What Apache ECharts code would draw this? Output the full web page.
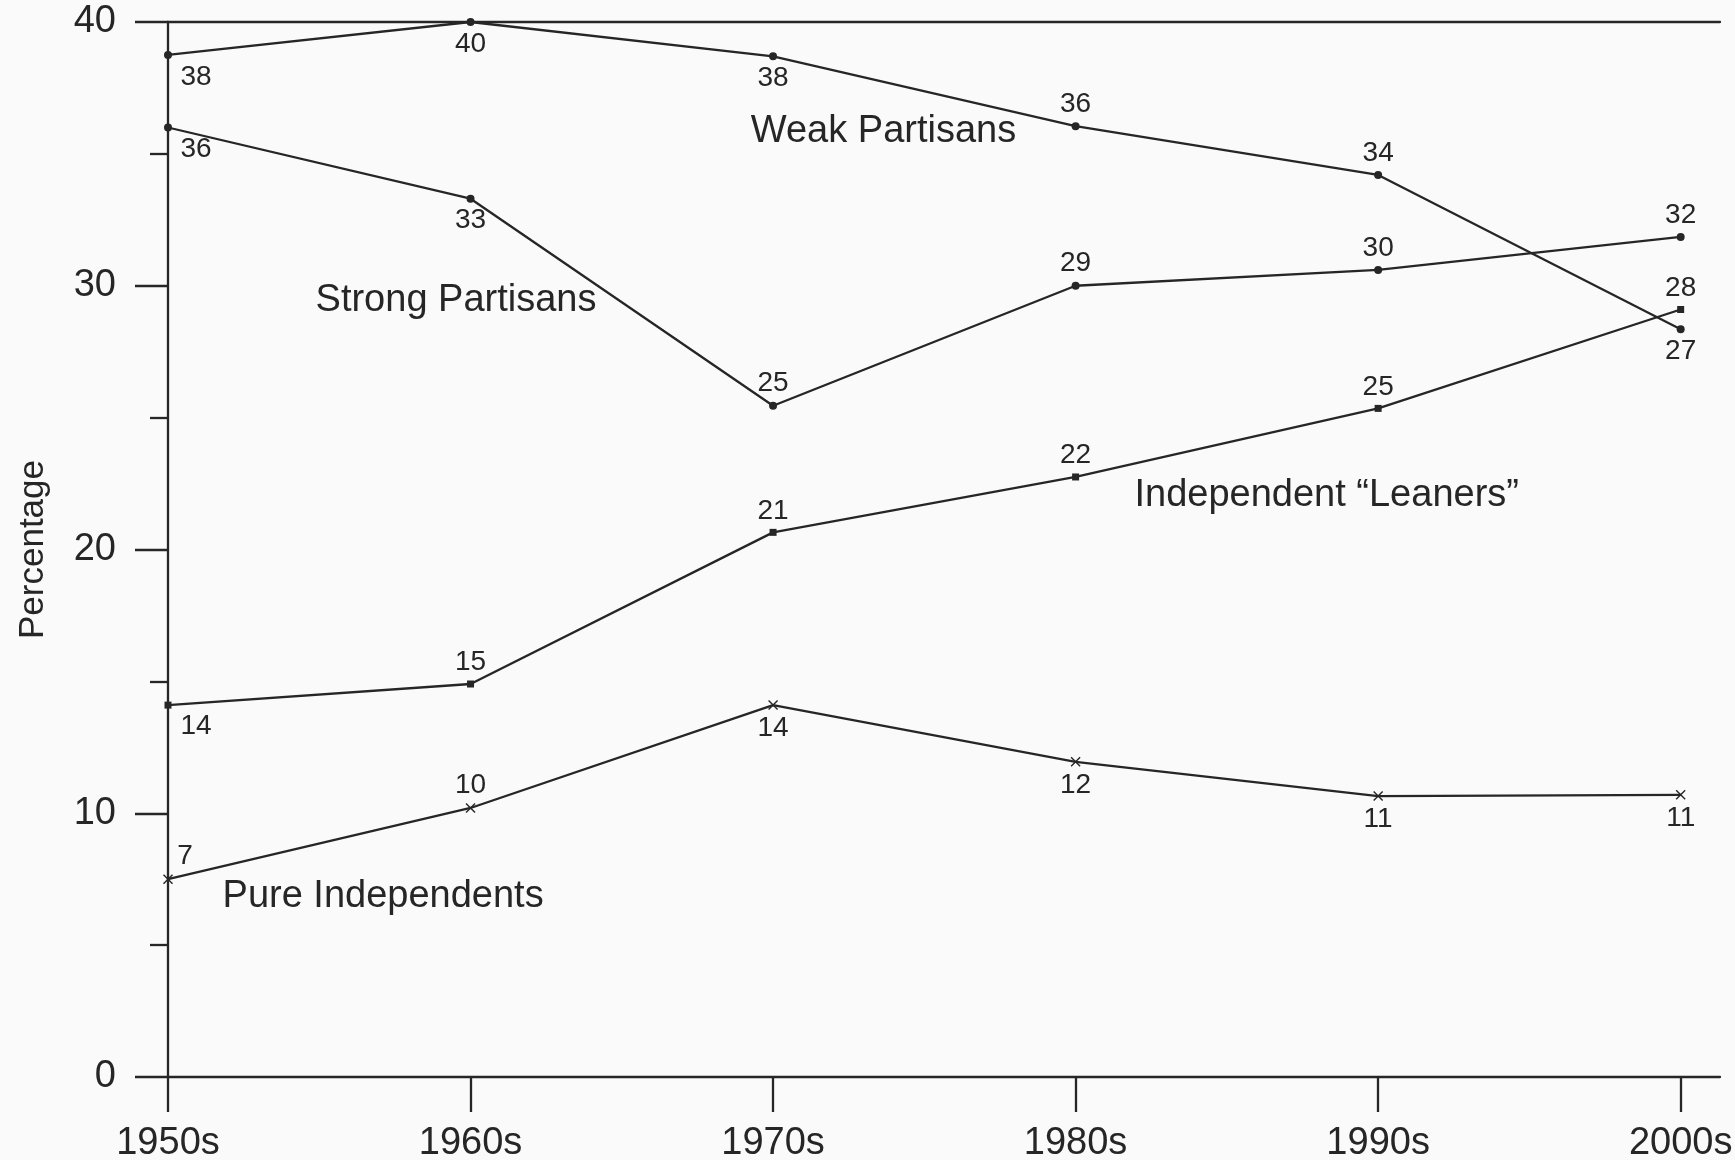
<!DOCTYPE html>
<html>
<head>
<meta charset="utf-8">
<title>Partisanship by decade</title>
<script src="https://cdn.jsdelivr.net/npm/echarts@6/dist/echarts.min.js"></script>
<style>
  html, body { margin: 0; padding: 0; background: #fafafa; }
  #chart { width: 1735px; height: 1160px; }
</style>
</head>
<body>
<div id="chart"></div>
<script>
// x axis categories
const decades = ['1950s', '1960s', '1970s', '1980s', '1990s', '2000s'];
// y axis tick labels
const yTicks = [0, 10, 20, 30, 40];

// plotted values
const weakValues = [38.75, 40.0, 38.7, 36.05, 34.2, 28.35];
const strongValues = [36.0, 33.3, 25.45, 30.0, 30.6, 31.85];
const leanerValues = [14.1, 14.9, 20.65, 22.75, 25.35, 29.1];
const pureValues = [7.5, 10.2, 14.1, 11.95, 10.65, 10.7];

// numbers printed beside each point
const weakLabels = ['38', '40', '38', '36', '34', '27'];
const strongLabels = ['36', '33', '25', '29', '30', '32'];
const leanerLabels = ['14', '15', '21', '22', '25', '28'];
const pureLabels = ['7', '10', '14', '12', '11', '11'];

// where each number sits: t = above, b = below, r suffix = nudged right
const weakPlace = ['br', 'b', 'b', 't', 't', 'b'];
const strongPlace = ['br', 'b', 't', 't', 't', 't'];
const leanerPlace = ['br', 't', 't', 't', 't', 't'];
const purePlace = ['tr', 't', 'b', 'b', 'b', 'b'];

const ink = '#262626';
const font = '"Liberation Sans", Arial, Helvetica, sans-serif';

// X shaped marker for the pure independents
const crossPath = 'path://M0,1 L1,0 L5,4 L9,0 L10,1 L6,5 L10,9 L9,10 L5,6 L1,10 L0,9 L4,5 Z';

function buildData (values, labels, place) {
  let out = [];
  for (let i = 0; i < values.length; i++) {
    let p = place[i];
    out.push({
      value: [i, values[i]],
      label: {
        formatter: labels[i],
        position: p[0] === 't' ? 'top' : 'bottom',
        offset: p.length > 1 ? [p[0] === 't' ? 17 : 28, 0] : [0, 0]
      }
    });
  }
  return out;
}

// series name written on the plot, placed in data units
function nameTag (text, x, y) {
  return {
    symbol: 'circle',
    symbolSize: 1,
    silent: true,
    itemStyle: { color: 'rgba(0,0,0,0)' },
    label: {
      show: true,
      position: 'inside',
      formatter: text,
      fontSize: 38,
      fontFamily: font,
      color: ink
    },
    data: [{ coord: [x, y] }]
  };
}

function makeSeries (name, values, labels, place, symbol, size, tag) {
  return {
    name: name,
    type: 'line',
    data: buildData(values, labels, place),
    symbol: symbol,
    symbolSize: size,
    showAllSymbol: true,
    lineStyle: { color: ink, width: 2.3 },
    itemStyle: { color: ink },
    label: {
      show: true,
      fontSize: 28,
      fontFamily: font,
      color: ink,
      distance: 4
    },
    markPoint: tag
  };
}

const chart = echarts.init(document.getElementById('chart'));

const axisLine = { show: true, lineStyle: { color: ink, width: 2.3 } };

chart.setOption({
  animation: false,
  backgroundColor: '#fafafa',
  grid: {
    left: 168,
    right: 15,
    top: 22,
    bottom: 83,
    containLabel: false,
    outerBoundsMode: 'none'
  },
  xAxis: [
    {
      type: 'value',
      min: 0,
      max: 5.13,
      interval: 1,
      axisLine: axisLine,
      splitLine: { show: false },
      axisTick: {
        show: true,
        length: 35,
        customValues: decades.map((d, i) => i),
        lineStyle: { color: ink, width: 2.3 }
      },
      axisLabel: {
        customValues: decades.map((d, i) => i),
        formatter: v => decades[v],
        margin: 48,
        fontSize: 38,
        fontFamily: font,
        color: ink
      }
    },
    {
      // plain rule along the 40 line
      type: 'value',
      position: 'top',
      min: 0,
      max: 5.13,
      axisLine: axisLine,
      axisTick: { show: false },
      axisLabel: { show: false },
      splitLine: { show: false }
    }
  ],
  yAxis: {
    type: 'value',
    min: yTicks[0],
    max: yTicks[yTicks.length - 1],
    interval: 10,
    name: 'Percentage',
    nameLocation: 'middle',
    nameGap: 117,
    nameTextStyle: { fontSize: 35, fontFamily: font, color: ink },
    axisLine: axisLine,
    splitLine: { show: false },
    axisTick: { show: true, length: 33, lineStyle: { color: ink, width: 2.3 } },
    minorTick: { show: true, splitNumber: 2, length: 18, lineStyle: { color: ink, width: 2.3 } },
    axisLabel: {
      margin: 52,
      fontSize: 38,
      fontFamily: font,
      color: ink
    }
  },
  series: [
    makeSeries('Weak Partisans', weakValues, weakLabels, weakPlace, 'circle', 8,
      nameTag('Weak Partisans', 2.365, 35.85)),
    makeSeries('Strong Partisans', strongValues, strongLabels, strongPlace, 'circle', 8,
      nameTag('Strong Partisans', 0.952, 29.45)),
    makeSeries('Independent "Leaners"', leanerValues, leanerLabels, leanerPlace, 'rect', 7,
      nameTag('Independent \u201cLeaners\u201d', 3.83, 22.03)),
    makeSeries('Pure Independents', pureValues, pureLabels, purePlace, crossPath, 10,
      nameTag('Pure Independents', 0.711, 6.86))
  ]
});
</script>
</body>
</html>
